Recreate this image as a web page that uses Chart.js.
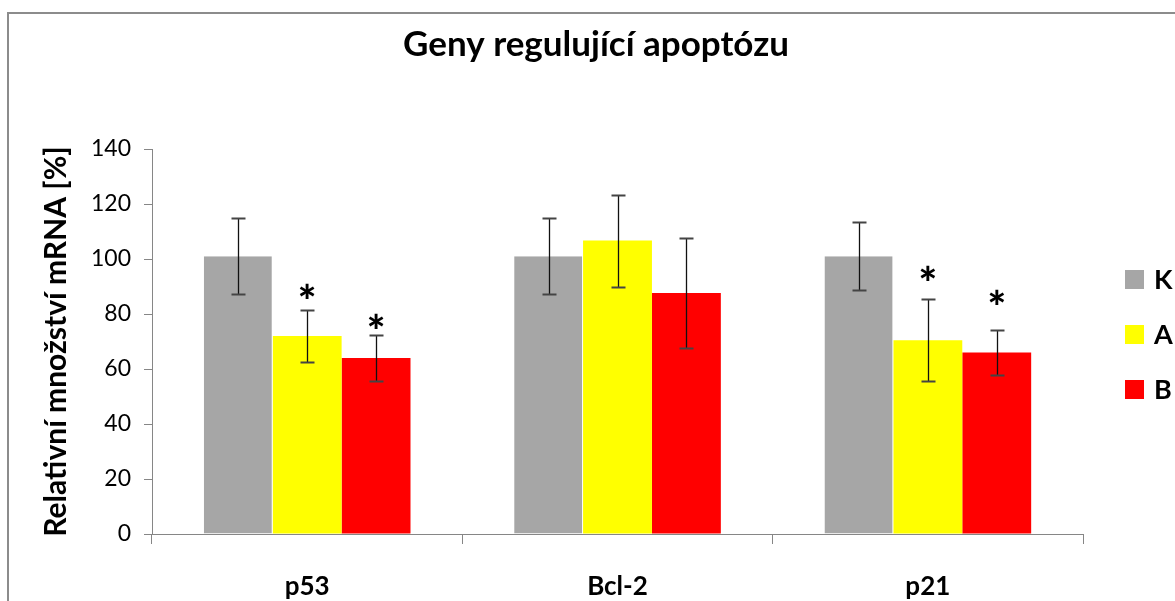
<!DOCTYPE html>
<html>
<head>
<meta charset="utf-8">
<script src="https://cdn.jsdelivr.net/npm/chart.js@4.4.1/dist/chart.umd.min.js"></script>
<style>
  html, body { margin: 0; padding: 0; background: #fff; }
  #wrap { width: 1175px; height: 601px; }
</style>
</head>
<body>
<div id="wrap"><canvas id="c"></canvas></div>
<script>
// data
const nadpis = 'Geny regulující apoptózu';
const geny = ['p53', 'Bcl-2', 'p21'];
const skupiny = ['K', 'A', 'B'];
const hodnotyK = [101, 101, 101];
const hodnotyA = [72, 106.7, 70.5];
const hodnotyB = [64, 87.6, 66];
const chybaK = [13.8, 13.8, 12.3];
const chybaA = [9.4, 16.7, 14.9];
const chybaB = [8.4, 20, 8.3];
// hvezdicky (vyznamnost) - vyska znacky v jednotkach osy y, null = bez znacky
const hvezdaK = [null, null, null];
const hvezdaA = [88.5, null, 95];
const hvezdaB = [77.4, null, 86.1];
const osaTicks = [0, 20, 40, 60, 80, 100, 120, 140];

const barvy = ['#a6a6a6', '#ffff00', '#ff0000'];
const FONT = 'Lato, "Open Sans", sans-serif';

const chyby = [chybaK, chybaA, chybaB];
const hvezdy = [hvezdaK, hvezdaA, hvezdaB];

// --- ramecek, nadpis, chybove usecky, hvezdicky, legenda ---
const doplnky = {
  id: 'doplnky',
  beforeDraw(chart) {
    const ctx = chart.ctx;
    ctx.save();
    ctx.strokeStyle = '#8c8c8c';
    ctx.lineWidth = 2;
    ctx.beginPath();
    ctx.moveTo(8, 601);
    ctx.lineTo(8, 13);
    ctx.lineTo(1175, 13);
    ctx.stroke();

    ctx.fillStyle = '#000';
    ctx.font = 'bold 35px ' + FONT;
    ctx.textAlign = 'center';
    ctx.textBaseline = 'alphabetic';
    ctx.fillText(nadpis, (chart.width + 17) / 2, 56);
    ctx.restore();
  },
  afterDatasetsDraw(chart) {
    const ctx = chart.ctx;
    const y = chart.scales.y;
    ctx.save();
    chart.data.datasets.forEach((ds, i) => {
      const meta = chart.getDatasetMeta(i);
      meta.data.forEach((bar, j) => {
        const v = ds.data[j];
        const e = chyby[i][j];
        const yt = Math.round(y.getPixelForValue(v + e)) + 0.5;
        const yb = Math.round(y.getPixelForValue(v - e)) + 0.5;
        const x = Math.round(bar.x) + 0.5;
        ctx.strokeStyle = '#111';
        ctx.lineWidth = 1.3;
        ctx.beginPath();
        ctx.moveTo(x, yt); ctx.lineTo(x, yb);
        ctx.stroke();
        ctx.strokeStyle = '#444';
        ctx.lineWidth = 2;
        ctx.beginPath();
        ctx.moveTo(x - 7, yt); ctx.lineTo(x + 7, yt);
        ctx.moveTo(x - 7, yb); ctx.lineTo(x + 7, yb);
        ctx.stroke();

        const h = hvezdy[i][j];
        if (h != null) {
          ctx.fillStyle = '#000';
          ctx.font = '900 44px ' + FONT;
          ctx.textAlign = 'center';
          ctx.textBaseline = 'alphabetic';
          const m = ctx.measureText('*');
          const yc = y.getPixelForValue(h);
          const base = yc + (m.actualBoundingBoxAscent - m.actualBoundingBoxDescent) / 2;
          ctx.fillText('*', bar.x, base);
        }
      });
    });

    // legenda vpravo
    const a = chart.chartArea;
    const stred = (a.top + a.bottom) / 2 - 7;
    ctx.font = 'bold 27px ' + FONT;
    ctx.textAlign = 'left';
    ctx.textBaseline = 'middle';
    chart.data.datasets.forEach((ds, i) => {
      const cy = stred + (i - 1) * 55;
      ctx.fillStyle = ds.backgroundColor;
      ctx.fillRect(a.right + 42, cy - 9.5, 19, 19);
      ctx.fillStyle = '#000';
      ctx.fillText(ds.label, a.right + 71, cy + 1);
    });
    ctx.restore();
  }
};

new Chart(document.getElementById('c'), {
  type: 'bar',
  data: {
    labels: geny,
    datasets: [
      { label: skupiny[0], data: hodnotyK, backgroundColor: barvy[0], borderColor: '#fff', borderWidth: { right: 1 }, borderSkipped: false },
      { label: skupiny[1], data: hodnotyA, backgroundColor: barvy[1], borderWidth: 0 },
      { label: skupiny[2], data: hodnotyB, backgroundColor: barvy[2], borderWidth: 0 }
    ]
  },
  options: {
    responsive: true,
    maintainAspectRatio: false,
    animation: false,
    datasets: { bar: { categoryPercentage: 0.666, barPercentage: 1.0 } },
    layout: { padding: { left: 0, top: 149, right: 92, bottom: 0 } },
    plugins: {
      legend: { display: false },
      tooltip: { enabled: false },
      title: { display: false }
    },
    scales: {
      x: {
        afterFit(s) { s.height = 67; },
        border: { color: '#868686', width: 1 },
        grid: { offset: true, drawOnChartArea: false, drawTicks: true, tickLength: 10, tickColor: '#868686' },
        ticks: { color: '#000', padding: 27, font: { family: FONT, size: 26, weight: 'bold' } }
      },
      y: {
        min: 0,
        max: 140,
        afterFit(s) { s.width = 152; },
        afterBuildTicks(s) { s.ticks = osaTicks.map(v => ({ value: v })); },
        border: { color: '#868686', width: 1 },
        grid: { drawOnChartArea: false, drawTicks: true, tickLength: 8, tickColor: '#868686' },
        ticks: { color: '#000', padding: 13, font: { family: FONT, size: 23 } },
        title: {
          display: true,
          text: 'Relativní množství mRNA [%]',
          color: '#000',
          font: { family: FONT, size: 30, weight: 'bold', lineHeight: 1.2 },
          padding: { top: 38, bottom: 0 }
        }
      }
    }
  },
  plugins: [doplnky]
});
</script>
</body>
</html>
